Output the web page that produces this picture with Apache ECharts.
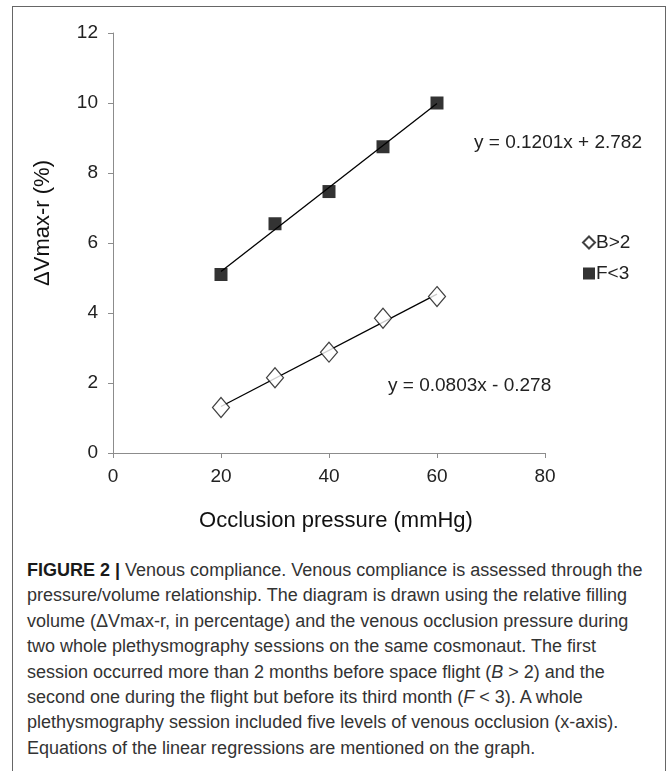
<!DOCTYPE html>
<html>
<head>
<meta charset="utf-8">
<script src="https://cdn.jsdelivr.net/npm/echarts@6/dist/echarts.min.js"></script>
<style>
  html, body { margin: 0; padding: 0; background: #fff; }
  body { width: 668px; height: 771px; position: relative; overflow: hidden; }
  .frame {
    position: absolute; left: 12px; top: 6px; width: 652px; height: 800px;
    border: 1px solid #666;
  }
  .chart { position: absolute; left: 0; top: 0; width: 668px; height: 540px; }
  .caption {
    position: absolute; left: 27px; top: 558px; width: 635px;
    font-family: "Liberation Sans", Arial, sans-serif;
    font-size: 18px; line-height: 25.4px; color: #333; white-space: nowrap;
  }
  .caption b { color: #1a1a1a; }
</style>
</head>
<body>
<div class="frame"></div>
<div class="chart"></div>
<div class="caption"><b>FIGURE 2 |</b> Venous compliance. Venous compliance is assessed through the<br>pressure/volume relationship. The diagram is drawn using the relative filling<br>volume (ΔVmax-r, in percentage) and the venous occlusion pressure during<br>two whole plethysmography sessions on the same cosmonaut. The first<br>session occurred more than 2 months before space flight (<i>B</i> &gt; 2) and the<br>second one during the flight but before its third month (<i>F</i> &lt; 3). A whole<br>plethysmography session included five levels of venous occlusion (x-axis).<br>Equations of the linear regressions are mentioned on the graph.</div>
<script>
// 数据
var pressure = [20, 30, 40, 50, 60];
var before = [1.3, 2.15, 2.88, 3.85, 4.47];   // B>2
var flight = [5.1, 6.55, 7.47, 8.75, 10.0];   // F<3
// 回归系数 (斜率, 截距)
var fitBefore = [0.0803, -0.278];
var fitFlight = [0.1201, 2.782];
var xTicks = [0, 20, 40, 60, 80];
var yTicks = [0, 2, 4, 6, 8, 10, 12];

(function () {
  var myChart = echarts.init(document.querySelector(".chart"));

  function pairs(ys) {
    return pressure.map(function (x, i) { return [x, ys[i]]; });
  }
  // 回归线只画数据范围内
  function fitLine(c) {
    var x0 = pressure[0], x1 = pressure[pressure.length - 1];
    return [[x0, c[0] * x0 + c[1]], [x1, c[0] * x1 + c[1]]];
  }
  function eqText(c) {
    var sign = c[1] < 0 ? " - " : " + ";
    return "y = " + c[0].toFixed(4) + "x" + sign + Math.abs(c[1]).toFixed(3);
  }

  var font = "Liberation Sans, Arial, sans-serif";
  var axisColor = "#8c8c8c";

  var option = {
    animation: false,
    textStyle: { fontFamily: font },
    grid: { left: 113, right: 123, top: 33, bottom: 87, outerBoundsMode: "none" },
    legend: {
      orient: "vertical",
      left: 577,
      top: 228,
      itemWidth: 12,
      itemHeight: 12,
      itemGap: 12,
      data: ["B>2", "F<3"],
      textStyle: { fontSize: 19, color: "#222", padding: [0, 0, 0, -4] }
    },
    xAxis: {
      type: "value",
      min: xTicks[0],
      max: xTicks[xTicks.length - 1],
      interval: 20,
      name: "Occlusion pressure (mmHg)",
      nameLocation: "middle",
      nameGap: 57,
      nameTextStyle: { fontSize: 22, color: "#111", padding: [0, 0, 0, 14] },
      axisLine: { lineStyle: { color: axisColor } },
      axisTick: { show: true, length: 5, lineStyle: { color: axisColor } },
      axisLabel: { fontSize: 19, color: "#222", margin: 14 },
      splitLine: { show: false }
    },
    yAxis: {
      type: "value",
      min: yTicks[0],
      max: yTicks[yTicks.length - 1],
      interval: 2,
      axisLine: { show: true, lineStyle: { color: axisColor } },
      axisTick: { show: true, length: 5, lineStyle: { color: axisColor } },
      axisLabel: { fontSize: 19, color: "#222", margin: 15 },
      splitLine: { show: false }
    },
    graphic: [
      {
        // y 轴标题
        type: "text", x: 43, y: 223, rotation: Math.PI / 2,
        style: {
          text: "ΔVmax-r (%)", font: "22px " + font, fill: "#111",
          align: "center", verticalAlign: "middle"
        }
      },
      {
        type: "text", left: 474, top: 133,
        style: { text: eqText(fitFlight), font: "19px " + font, fill: "#222" }
      },
      {
        type: "text", left: 388, top: 376,
        style: { text: eqText(fitBefore), font: "19px " + font, fill: "#222" }
      }
    ],
    series: [
      {
        name: "B>2-fit", type: "line", data: fitLine(fitBefore),
        symbol: "none", lineStyle: { color: "#000", width: 1.3 }, z: 1
      },
      {
        name: "F<3-fit", type: "line", data: fitLine(fitFlight),
        symbol: "none", lineStyle: { color: "#000", width: 1.3 }, z: 1
      },
      {
        name: "B>2", type: "scatter", data: pairs(before),
        symbol: "diamond", symbolSize: [17, 20],
        itemStyle: { color: "#fff", borderColor: "#111", borderWidth: 1.2 }, z: 3
      },
      {
        name: "F<3", type: "scatter", data: pairs(flight),
        symbol: "rect", symbolSize: 13,
        itemStyle: { color: "#000" }, z: 3
      }
    ]
  };

  myChart.setOption(option);
  window.addEventListener("resize", function () {
    myChart.resize();
  });
})();
</script>
</body>
</html>
